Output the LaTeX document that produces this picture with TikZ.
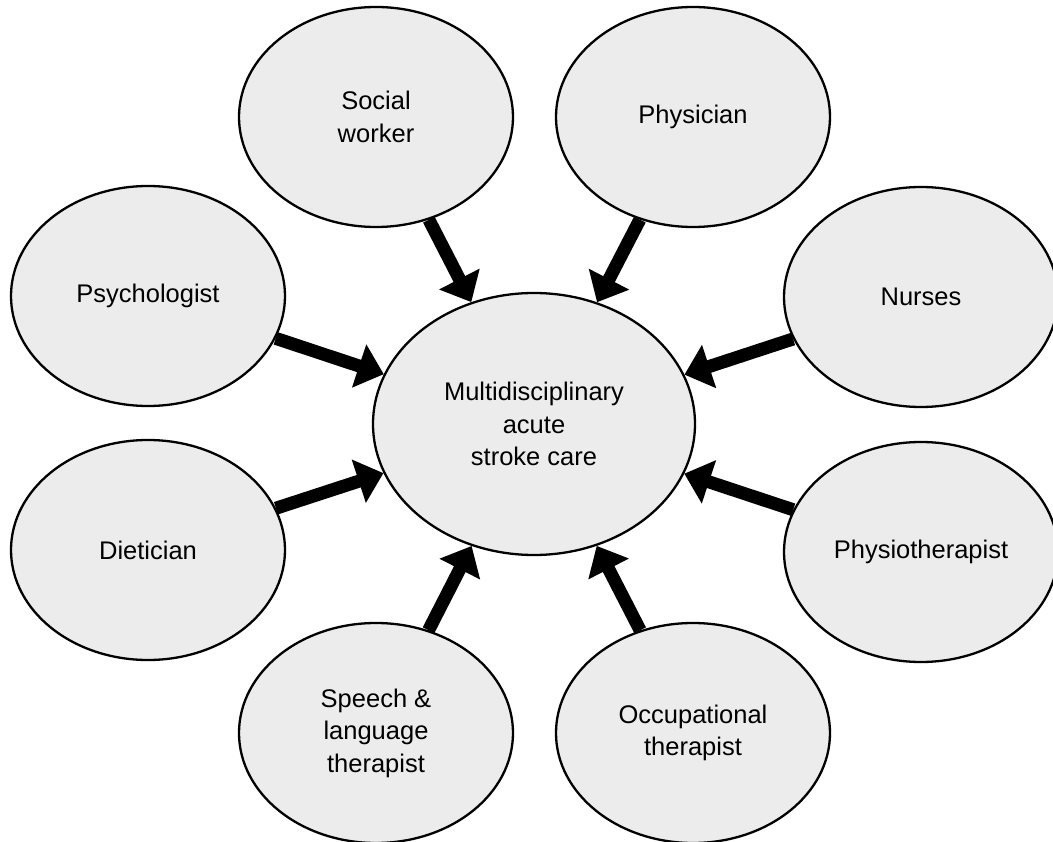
\documentclass[tikz,border=0pt]{standalone}
\usepackage{fontspec}
\setmainfont{Liberation Sans}
\usetikzlibrary{shapes.geometric,arrows.meta}
\definecolor{bubble}{RGB}{236,236,236}
\begin{document}
\begin{tikzpicture}[x=1pt,y=-1pt,
  role/.style={ellipse, draw=black, line width=2.3pt, fill=bubble,
    minimum width=274pt, minimum height=220pt, inner sep=0pt,
    align=center, font=\fontsize{25.5}{32.5}\selectfont},
  hub/.style={role, minimum width=322pt, minimum height=262pt},
  feed/.style={line width=13pt, -{Triangle[length=26pt,width=44pt]}}]
\useasboundingbox (0,0) rectangle (1053,842);

% care team around the central ellipse
\node[hub]  (care) at (534,424) {Multidisciplinary\\acute\\stroke care};
\node[role] (soc)  at (376,117) {Social\\worker};
\node[role] (phy)  at (693,117) {Physician};
\node[role] (psy)  at (148,296) {Psychologist};
\node[role] (nur)  at (921,297) {Nurses};
\node[role] (die)  at (148,550) {Dietician};
\node[role] (pht)  at (921,552) {Physiotherapist};
\node[role] (slt)  at (376,733) {Speech \&\\language\\therapist};
\node[role] (occ)  at (693,733) {Occupational\\therapist};

% every discipline feeds into the central care
\foreach \n in {soc,phy,psy,nur,die,pht,slt,occ}
  \draw[feed] (\n) -- (care);
\end{tikzpicture}
\end{document}
